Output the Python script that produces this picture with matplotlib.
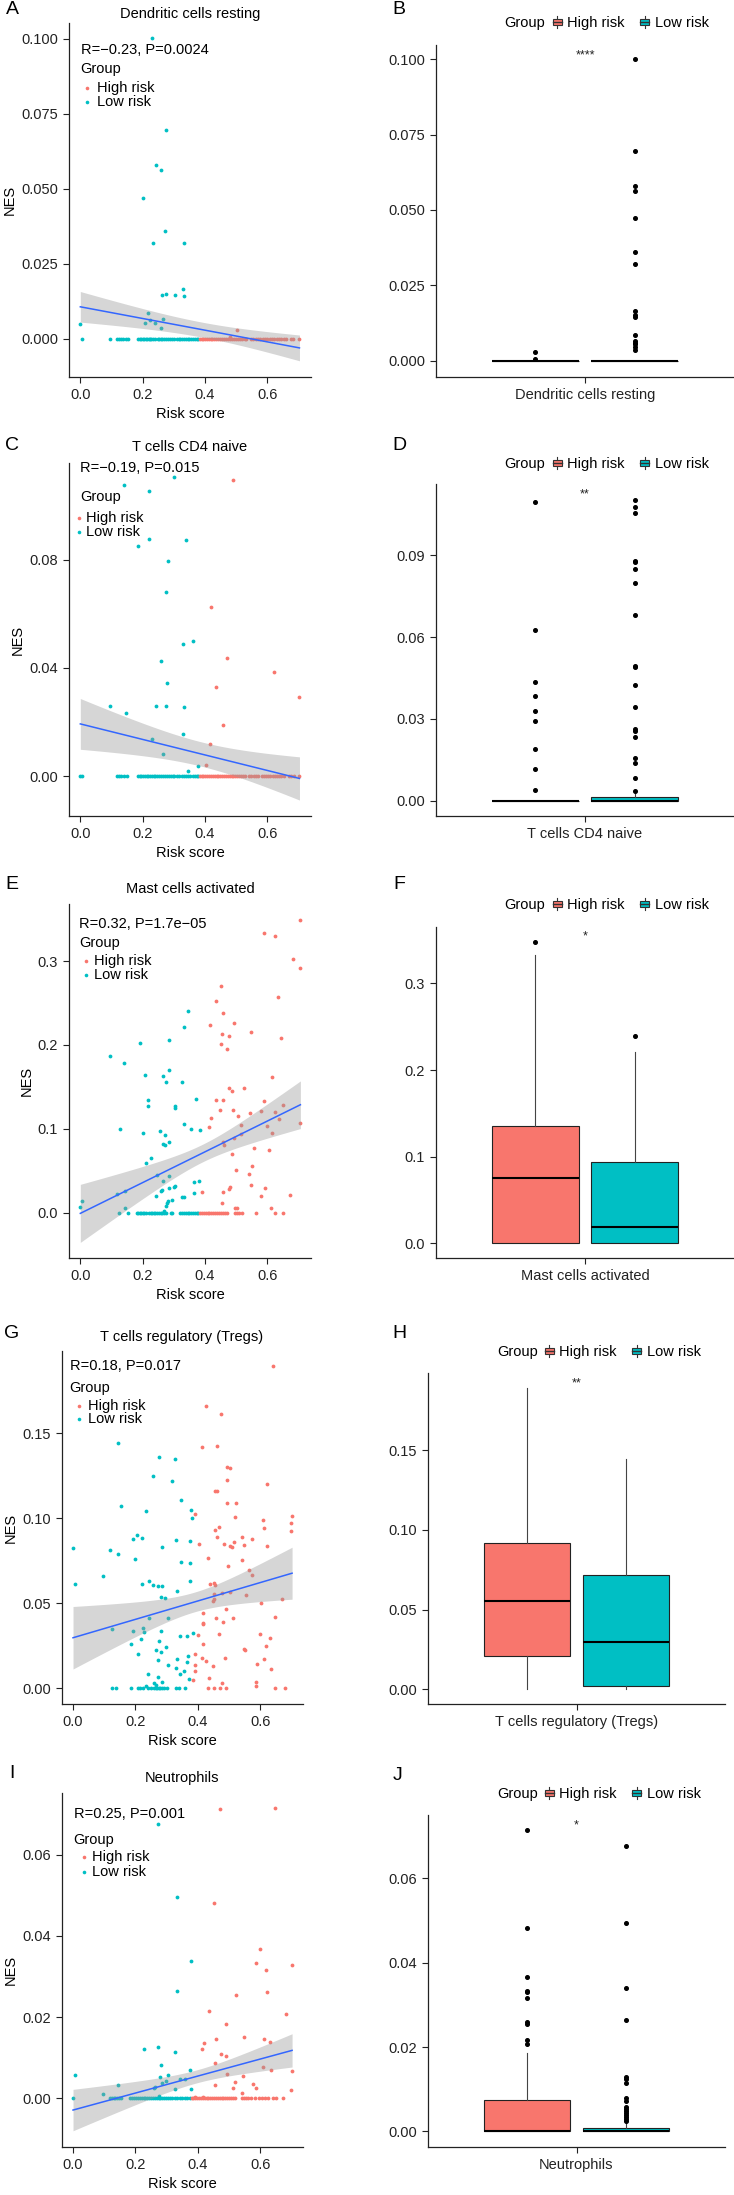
import numpy as np
import matplotlib
matplotlib.use("Agg")
import matplotlib.pyplot as plt
from matplotlib.patches import Patch, Rectangle
from matplotlib.lines import Line2D
from matplotlib.legend_handler import HandlerBase

plt.rcParams["font.family"] = ["Liberation Sans", "DejaVu Sans"]

W, H = 734, 2195
HIGH = "#F8766D"
LOW = "#00BFC4"
INK = "#222222"

# ---------------- data ----------------
# A / B  Dendritic cells resting
a_low_x = [0.229, 0.275, 0.244, 0.260, 0.200, 0.272, 0.234, 0.332, 0.328, 0.263, 0.275, 0.305, 0.333,
           0.218, 0.209, 0.225, 0.241, 0.264, 0.258, 0.0]
a_low_y = [0.1003, 0.0696, 0.0581, 0.0562, 0.0471, 0.0361, 0.032, 0.032, 0.0166, 0.0148, 0.0151, 0.0148, 0.0143,
           0.0087, 0.0053, 0.0062, 0.0053, 0.0068, 0.0038, 0.005]
a_low_zero = [0.007, 0.096, 0.117, 0.124, 0.131, 0.138, 0.145, 0.152, 0.184, 0.19, 0.196, 0.2, 0.205, 0.21,
              0.214, 0.219, 0.224, 0.228, 0.233, 0.241, 0.248, 0.252, 0.258, 0.263, 0.27, 0.276, 0.281, 0.287,
              0.293, 0.3, 0.31, 0.316, 0.321, 0.327, 0.333, 0.338, 0.344, 0.35, 0.356, 0.362, 0.368, 0.374, 0.379]
a_high_x = [0.504, 0.48]
a_high_y = [0.0029, 0.0007]
a_high_zero = [0.383, 0.389, 0.395, 0.4, 0.406, 0.412, 0.418, 0.424, 0.43, 0.436, 0.442, 0.448, 0.455, 0.461,
               0.468, 0.474, 0.48, 0.487, 0.493, 0.5, 0.507, 0.513, 0.52, 0.527, 0.533, 0.548, 0.555, 0.562,
               0.57, 0.577, 0.585, 0.592, 0.6, 0.607, 0.615, 0.622, 0.63, 0.637, 0.645, 0.652, 0.66, 0.675,
               0.683, 0.703]
a_fit = [0.0107, -0.0030, 0.0051, 0.0025, 0.0043]  # line at x=0, line at x=max, CI half-width at 0 / min / max
a_stat = "R=\u22120.23, P=0.0024"

b_high_box = [0.0, 0.0, 0.0, 0.0, 0.0]  # whislo, q1, med, q3, whishi
b_high_out = [0.0029, 0.0007]
b_low_box = [0.0, 0.0, 0.0, 0.0, 0.0]
b_low_out = [0.1, 0.0694, 0.058, 0.0564, 0.0473, 0.0362, 0.0321, 0.0165, 0.0151, 0.0144, 0.0086, 0.0067,
             0.006, 0.0054, 0.0046, 0.0035]
b_star = ("****", 0.1011)

# C / D  T cells CD4 naive
c_low_x = [0.140, 0.299, 0.219, 0.220, 0.340, 0.186, 0.282, 0.275, 0.328, 0.361, 0.258, 0.279, 0.096, 0.145,
           0.244, 0.276, 0.334, 0.328, 0.229, 0.264, 0.376, 0.344]
c_low_y = [0.1078, 0.1106, 0.1056, 0.0879, 0.0874, 0.0851, 0.0798, 0.0681, 0.0490, 0.0499, 0.0426, 0.0343,
           0.0259, 0.0235, 0.0260, 0.0258, 0.0256, 0.0156, 0.0138, 0.0083, 0.0036, 0.0019]
c_low_zero = [0.0, 0.006, 0.117, 0.124, 0.131, 0.14, 0.149, 0.184, 0.19, 0.196, 0.202, 0.208, 0.213, 0.218,
              0.224, 0.229, 0.235, 0.241, 0.247, 0.253, 0.259, 0.265, 0.271, 0.277, 0.283, 0.29, 0.296, 0.302,
              0.31, 0.318, 0.325, 0.332, 0.339, 0.346, 0.353, 0.36, 0.367, 0.374, 0.379]
c_high_x = [0.490, 0.419, 0.472, 0.621, 0.434, 0.702, 0.457, 0.415, 0.404]
c_high_y = [0.1096, 0.0627, 0.0436, 0.0386, 0.0328, 0.0293, 0.0189, 0.0117, 0.0040]
c_high_zero = [0.383, 0.389, 0.395, 0.401, 0.407, 0.413, 0.419, 0.425, 0.431, 0.437, 0.443, 0.449, 0.455,
               0.461, 0.467, 0.473, 0.479, 0.485, 0.491, 0.497, 0.503, 0.509, 0.515, 0.521, 0.527, 0.542,
               0.549, 0.556, 0.563, 0.57, 0.582, 0.589, 0.596, 0.603, 0.61, 0.617, 0.624, 0.631, 0.638,
               0.645, 0.652, 0.668, 0.676, 0.684, 0.703]
c_fit = [0.0193, -0.0009, 0.0094, 0.0045, 0.0080]
c_stat = "R=\u22120.19, P=0.015"

d_high_box = [0.0, 0.0, 0.0, 0.0, 0.0]
d_high_out = [0.1097, 0.0626, 0.0437, 0.0385, 0.0328, 0.0292, 0.0189, 0.0116, 0.0038]
d_low_box = [0.0, 0.0, 0.0, 0.0014, 0.0025]
d_low_out = [0.1105, 0.1076, 0.1057, 0.0880, 0.0876, 0.0851, 0.0797, 0.0681, 0.0496, 0.0492, 0.0426,
             0.0344, 0.0262, 0.0257, 0.0235, 0.0158, 0.0139, 0.0082, 0.0037]
d_star = ("**", 0.1124)

# E / F  Mast cells activated
e_high_x = [0.704, 0.588, 0.625, 0.683, 0.704, 0.452, 0.436, 0.633, 0.457, 0.415, 0.493, 0.455, 0.478, 0.549,
            0.643, 0.451, 0.471, 0.614, 0.476, 0.486, 0.524, 0.434, 0.459, 0.589, 0.449, 0.490, 0.545, 0.579,
            0.624, 0.649, 0.419, 0.505, 0.637, 0.516, 0.413, 0.600, 0.706, 0.517, 0.614, 0.494, 0.457, 0.460,
            0.557, 0.604, 0.487, 0.498, 0.551, 0.542, 0.549, 0.593, 0.480, 0.477, 0.389, 0.459, 0.579, 0.672,
            0.453, 0.611, 0.495, 0.504]
e_high_y = [0.3488, 0.3337, 0.3302, 0.3023, 0.2912, 0.2706, 0.2523, 0.2571, 0.2376, 0.2241, 0.2261, 0.2126,
            0.2110, 0.2149, 0.2086, 0.2014, 0.1955, 0.1617, 0.1486, 0.1450, 0.1486, 0.1347, 0.1347, 0.1335,
            0.1220, 0.1220, 0.1192, 0.1216, 0.1196, 0.1283, 0.1132, 0.1152, 0.1116, 0.1045, 0.1021, 0.1033,
            0.1065, 0.0934, 0.0946, 0.0886, 0.0842, 0.0807, 0.0767, 0.0747, 0.0695, 0.0513, 0.0552, 0.0461,
            0.0326, 0.0298, 0.0302, 0.0282, 0.0242, 0.0242, 0.0199, 0.0215, 0.0115, 0.0052, 0.0056, 0.0052]
e_high_zero = [0.385, 0.39, 0.396, 0.402, 0.408, 0.414, 0.42, 0.426, 0.432, 0.438, 0.445, 0.452, 0.458,
               0.465, 0.47, 0.495, 0.502, 0.51, 0.52, 0.565, 0.626, 0.65]
e_low_x = [0.347, 0.333, 0.190, 0.283, 0.094, 0.139, 0.207, 0.266, 0.283, 0.275, 0.327, 0.218, 0.217, 0.371,
           0.304, 0.304, 0.333, 0.127, 0.355, 0.384, 0.202, 0.256, 0.273, 0.264, 0.273, 0.283, 0.227, 0.210,
           0.247, 0.283, 0.365, 0.381, 0.264, 0.299, 0.304, 0.286, 0.258, 0.261, 0.117, 0.143, 0.366, 0.327,
           0.332, 0.244, 0.280, 0.295, 0.277, 0.275, 0.143, 0.004, 0.0, 0.270]
e_low_y = [0.2400, 0.2213, 0.2026, 0.2054, 0.1863, 0.1784, 0.1637, 0.1625, 0.1700, 0.1553, 0.1561, 0.1339,
           0.1267, 0.1355, 0.1275, 0.1244, 0.1061, 0.0997, 0.1001, 0.0985, 0.0950, 0.0969, 0.0930, 0.0814,
           0.0807, 0.0846, 0.0652, 0.0592, 0.0449, 0.0441, 0.0362, 0.0373, 0.0373, 0.0310, 0.0314, 0.0290,
           0.0254, 0.0270, 0.0222, 0.0258, 0.0234, 0.0187, 0.0183, 0.0199, 0.0139, 0.0151, 0.0111, 0.0079,
           0.0056, 0.0139, 0.0072, 0.0020]
e_low_zero = [0.124, 0.152, 0.181, 0.186, 0.19, 0.196, 0.2, 0.205, 0.212, 0.22, 0.226, 0.231, 0.236, 0.241,
              0.247, 0.252, 0.258, 0.263, 0.27, 0.276, 0.29, 0.295, 0.32, 0.327, 0.333, 0.338, 0.345, 0.35,
              0.356, 0.362, 0.368, 0.374, 0.379]
e_fit = [-0.0008, 0.1287, 0.0346, 0.0105, 0.0284]
e_stat = "R=0.32, P=1.7e\u221205"

f_high_box = [0.0, 0.0, 0.0758, 0.135, 0.3323]
f_high_out = [0.3481]
f_low_box = [0.0, 0.0, 0.0185, 0.0942, 0.2204]
f_low_out = [0.2392]
f_star = ("*", 0.3538)

# G / H  T cells regulatory (Tregs)
g_high_x = [0.641, 0.427, 0.473, 0.412, 0.460, 0.492, 0.504, 0.494, 0.621, 0.456, 0.461, 0.494, 0.523, 0.390,
            0.702, 0.520, 0.609, 0.700, 0.468, 0.611, 0.456, 0.700, 0.463, 0.541, 0.575, 0.404, 0.484, 0.515,
            0.504, 0.510, 0.548, 0.623, 0.433, 0.543, 0.496, 0.563, 0.575, 0.438, 0.453, 0.456, 0.476, 0.504,
            0.451, 0.554, 0.670, 0.451, 0.448, 0.602, 0.491, 0.418, 0.458, 0.514, 0.647, 0.415, 0.416, 0.480,
            0.402, 0.469, 0.598, 0.630, 0.418, 0.620, 0.548, 0.550, 0.390, 0.414, 0.486, 0.427, 0.612, 0.392,
            0.448, 0.590, 0.635, 0.392, 0.435, 0.386, 0.476, 0.587, 0.587]
g_high_y = [0.1895, 0.1659, 0.1612, 0.1418, 0.1422, 0.1304, 0.1296, 0.1224, 0.1202, 0.1157, 0.1157, 0.1089,
            0.1089, 0.1026, 0.1014, 0.1004, 0.0991, 0.0971, 0.0948, 0.0940, 0.0928, 0.0924, 0.0889, 0.0891,
            0.0879, 0.0846, 0.0850, 0.0858, 0.0838, 0.0830, 0.0844, 0.0838, 0.0766, 0.0756, 0.0721, 0.0697,
            0.0664, 0.0613, 0.0619, 0.0605, 0.0562, 0.0566, 0.0556, 0.0550, 0.0525, 0.0523, 0.0513, 0.0501,
            0.0464, 0.0441, 0.0411, 0.0415, 0.0419, 0.0384, 0.0378, 0.0388, 0.0311, 0.0319, 0.0319, 0.0294,
            0.0262, 0.0247, 0.0227, 0.0221, 0.0202, 0.0174, 0.0174, 0.0159, 0.0172, 0.0133, 0.0131, 0.0143,
            0.0114, 0.0098, 0.0059, 0.0049, 0.0029, 0.0035, 0.0012]
g_high_zero = [0.433, 0.452, 0.471, 0.490, 0.647, 0.680]
g_low_x = [0.144, 0.274, 0.326, 0.256, 0.318, 0.345, 0.154, 0.379, 0.234, 0.380, 0.205, 0.191, 0.222, 0.331,
           0.374, 0.0, 0.119, 0.284, 0.145, 0.200, 0.345, 0.376, 0.095, 0.243, 0.375, 0.006, 0.222, 0.257,
           0.273, 0.284, 0.332, 0.282, 0.296, 0.244, 0.304, 0.125, 0.225, 0.227, 0.192, 0.281, 0.344, 0.366,
           0.383, 0.274, 0.219, 0.186, 0.299, 0.267, 0.282, 0.208, 0.370, 0.272, 0.332, 0.366, 0.304, 0.330,
           0.356, 0.343, 0.241, 0.273, 0.372, 0.259, 0.284, 0.265, 0.234]
g_low_y = [0.1445, 0.1361, 0.1351, 0.1251, 0.1218, 0.1108, 0.1069, 0.1046, 0.1044, 0.0999, 0.0903, 0.0877,
           0.0881, 0.0873, 0.0867, 0.0822, 0.0811, 0.0830, 0.0791, 0.0762, 0.0744, 0.0736, 0.0662, 0.0631,
           0.0632, 0.0613, 0.0613, 0.0605, 0.0599, 0.0603, 0.0574, 0.0537, 0.0531, 0.0415, 0.0411, 0.0349,
           0.0352, 0.0329, 0.0337, 0.0337, 0.0309, 0.0309, 0.0323, 0.0278, 0.0288, 0.0260, 0.0241, 0.0225,
           0.0211, 0.0202, 0.0186, 0.0166, 0.0172, 0.0151, 0.0137, 0.0119, 0.0098, 0.0084, 0.0082, 0.0063,
           0.0053, 0.0031, 0.0035, 0.0018, 0.0012]
g_low_zero = [0.126, 0.137, 0.186, 0.208, 0.216, 0.224, 0.24, 0.25, 0.259, 0.265, 0.27, 0.275, 0.28, 0.286,
              0.292, 0.3, 0.33, 0.34, 0.359]
g_fit = [0.0296, 0.0676, 0.0184, 0.0058, 0.0153]
g_stat = "R=0.18, P=0.017"

h_high_box = [0.0, 0.0205, 0.0554, 0.0918, 0.1893]
h_high_out = []
h_low_box = [0.0, 0.0017, 0.0297, 0.0718, 0.1444]
h_low_out = []
h_star = ("**", 0.192)

# I / J  Neutrophils
i_high_x = [0.470, 0.648, 0.452, 0.599, 0.587, 0.701, 0.620, 0.622, 0.523, 0.436, 0.681, 0.489, 0.548, 0.459,
            0.612, 0.632, 0.420, 0.414, 0.474, 0.491, 0.456, 0.609, 0.635, 0.702, 0.493, 0.546, 0.520, 0.454,
            0.576, 0.514, 0.587, 0.543, 0.700, 0.392, 0.416]
i_high_y = [0.0713, 0.0715, 0.0482, 0.0367, 0.0333, 0.0329, 0.0317, 0.0261, 0.0254, 0.0216, 0.0207, 0.0183,
            0.0151, 0.0146, 0.0145, 0.0139, 0.0135, 0.0121, 0.0109, 0.0103, 0.0088, 0.0076, 0.0069, 0.0066,
            0.0059, 0.0056, 0.0041, 0.0033, 0.0036, 0.0025, 0.0025, 0.0013, 0.0021, 0.0004, 0.0004]
i_high_zero = [0.38, 0.386, 0.392, 0.398, 0.404, 0.41, 0.416, 0.422, 0.428, 0.434, 0.44, 0.446, 0.452, 0.458,
               0.464, 0.47, 0.476, 0.482, 0.488, 0.494, 0.5, 0.506, 0.512, 0.518, 0.541, 0.548, 0.555, 0.562,
               0.57, 0.582, 0.595, 0.605, 0.615, 0.625, 0.64, 0.65, 0.672]
i_low_x = [0.273, 0.332, 0.379, 0.332, 0.227, 0.271, 0.328, 0.282, 0.375, 0.007, 0.304, 0.279, 0.344, 0.360,
           0.298, 0.286, 0.145, 0.264, 0.258, 0.327, 0.379, 0.096, 0.274]
i_low_y = [0.0676, 0.0495, 0.0339, 0.0265, 0.0122, 0.0127, 0.0114, 0.0081, 0.0070, 0.0058, 0.0058, 0.0053,
           0.0048, 0.0048, 0.0042, 0.0038, 0.0033, 0.0029, 0.0025, 0.0024, 0.0024, 0.0010, 0.0006]
i_low_zero = [0.0, 0.118, 0.124, 0.13, 0.136, 0.142, 0.148, 0.155, 0.184, 0.19, 0.196, 0.202, 0.208, 0.214,
              0.22, 0.226, 0.232, 0.238, 0.244, 0.25, 0.256, 0.262, 0.268, 0.274, 0.28, 0.286, 0.292, 0.298,
              0.304, 0.31, 0.318, 0.326, 0.334, 0.342, 0.35, 0.358, 0.366, 0.374]
i_fit = [-0.0029, 0.0118, 0.0051, 0.0016, 0.0041]
i_stat = "R=0.25, P=0.001"

j_high_box = [0.0, 0.0, 0.0002, 0.0074, 0.0186]
j_high_out = [0.0714, 0.0482, 0.0367, 0.0333, 0.033, 0.0317, 0.0259, 0.0254, 0.0216, 0.0207]
j_low_box = [0.0, 0.0, 0.0, 0.0008, 0.0019]
j_low_out = [0.0677, 0.0494, 0.0339, 0.0264, 0.0128, 0.0124, 0.0114, 0.008, 0.0073, 0.0058, 0.0054, 0.0049,
             0.0043, 0.0039, 0.0034, 0.0029, 0.0024]
j_star = ("*", 0.0726)

cell_names = ["Dendritic cells resting", "T cells CD4 naive", "Mast cells activated",
              "T cells regulatory (Tregs)", "Neutrophils"]
panel_letters = ["A", "B", "C", "D", "E", "F", "G", "H", "I", "J"]


# ---------------- helpers ----------------
def px_axes(fig, l, t, r, b):
    return fig.add_axes([l / W, 1 - b / H, (r - l) / W, (b - t) / H])


def fig_text(fig, x, y, s, **kw):
    kw.setdefault("fontsize", 10.5)
    kw.setdefault("color", "black")
    return fig.text(x / W, 1 - y / H, s, **kw)


def style_axes(ax):
    for side in ["top", "right"]:
        ax.spines[side].set_visible(False)
    for side in ["left", "bottom"]:
        ax.spines[side].set_color(INK)
        ax.spines[side].set_linewidth(0.9)
    ax.tick_params(length=4.3, width=0.8, pad=3.5, labelsize=10.5, colors=INK)


class BoxGlyph(HandlerBase):
    # little boxplot key like ggplot's legend glyph
    def create_artists(self, legend, orig_handle, xdescent, ydescent, width, height, fontsize, trans):
        x0, y0 = -xdescent, -ydescent
        fc = orig_handle.get_facecolor()
        box = Rectangle((x0 + 0.1 * width, y0 + 0.2 * height), 0.8 * width, 0.6 * height,
                        facecolor=fc, edgecolor="#333333", lw=0.8, transform=trans)
        whisk = Line2D([x0 + width / 2] * 2, [y0, y0 + height], color="#333333", lw=0.8, transform=trans)
        med = Line2D([x0 + 0.1 * width, x0 + 0.9 * width], [y0 + height / 2] * 2, color="#333333",
                     lw=1.0, transform=trans)
        return [whisk, box, med]


def ci_halfwidth(x, x0, x1, h0, hmin, h1):
    # shape of a linear-model confidence band: sqrt(A + B (x - c)^2)
    a = hmin ** 2
    r = np.sqrt((h0 ** 2 - a) / (h1 ** 2 - a))
    c = (x0 + r * x1) / (1 + r)
    b = (h0 ** 2 - a) / (c - x0) ** 2
    return np.sqrt(a + b * (x - c) ** 2)


def scatter_panel(fig, rect, lim, ticks, fmt, hx, hy, hz, lx, ly, lz, fit, stat, lay):
    ax = px_axes(fig, *rect)
    high_x = hx + hz
    high_y = hy + [0.0] * len(hz)
    low_x = lx + lz
    low_y = ly + [0.0] * len(lz)
    ax.scatter(low_x, low_y, s=7.5, color=LOW, linewidths=0, clip_on=False, zorder=2)
    ax.scatter(high_x, high_y, s=7.5, color=HIGH, linewidths=0, clip_on=False, zorder=2)

    x0 = min(high_x + low_x)
    x1 = max(high_x + low_x)
    xs = np.linspace(x0, x1, 200)
    line = fit[0] + (fit[1] - fit[0]) * (xs - x0) / (x1 - x0)
    hw = ci_halfwidth(xs, x0, x1, fit[2], fit[3], fit[4])
    ax.fill_between(xs, line - hw, line + hw, color="#999999", alpha=0.4, linewidth=0, zorder=3)
    ax.plot(xs, line, color="#3366FF", lw=1.1, zorder=4)

    ax.set_xlim(lim[0], lim[1])
    ax.set_ylim(lim[2], lim[3])
    ax.set_xticks([0.0, 0.2, 0.4, 0.6])
    ax.set_xticklabels(["0.0", "0.2", "0.4", "0.6"])
    ax.set_yticks(ticks)
    ax.set_yticklabels([fmt.format(t) for t in ticks])
    style_axes(ax)
    ax.set_xlabel("Risk score", fontsize=10.5, labelpad=3.5)
    ax.set_ylabel("NES", fontsize=10.5, labelpad=3)

    # in-panel annotation and legend
    sx, sy, gx, gy, dx, dy_hi, dy_lo, tx = lay
    fig_text(fig, sx, sy, stat, va="center", ha="left")
    fig_text(fig, gx, gy, "Group", va="center", ha="left")
    for yy, col, lab in [(dy_hi, HIGH, "High risk"), (dy_lo, LOW, "Low risk")]:
        fig.add_artist(Line2D([dx / W], [1 - yy / H], marker="o", markersize=2.6, color=col,
                              markeredgewidth=0, linestyle="none", transform=fig.transFigure))
        fig_text(fig, tx, yy, lab, va="center", ha="left")
    return ax


def box_panel(fig, rect, lim, ticks, fmt, hi_box, hi_out, lo_box, lo_out, star, name, leg):
    ax = px_axes(fig, *rect)
    stats = []
    for bx, out in [(hi_box, hi_out), (lo_box, lo_out)]:
        stats.append(dict(whislo=bx[0], q1=bx[1], med=bx[2], q3=bx[3], whishi=bx[4], fliers=out))
    res = ax.bxp(stats, positions=[0.8, 1.2], widths=0.35, patch_artist=True, showcaps=False,
                 boxprops=dict(edgecolor="#222222", linewidth=0.8),
                 whiskerprops=dict(color="#444444", linewidth=0.8),
                 medianprops=dict(color="black", linewidth=1.5),
                 flierprops=dict(marker="o", markerfacecolor="black", markeredgecolor="black",
                                 markersize=2.6, linestyle="none"))
    for patch, col in zip(res["boxes"], [HIGH, LOW]):
        patch.set_facecolor(col)
    for fl in res["fliers"]:
        fl.set_clip_on(False)
    ax.text(1.0, star[1], star[0], ha="center", va="center", fontsize=9, color=INK)

    ax.set_xlim(0.4, 1.6)
    ax.set_ylim(lim[0], lim[1])
    ax.set_xticks([1.0])
    ax.set_xticklabels([name])
    ax.set_yticks(ticks)
    ax.set_yticklabels([fmt.format(t) for t in ticks])
    style_axes(ax)

    gx, ix, ly = leg
    fig_text(fig, gx, ly, "Group", va="center", ha="left")
    handles = [Patch(facecolor=HIGH), Patch(facecolor=LOW)]
    fig.legend(handles, ["High risk", "Low risk"], ncol=2, loc="center left",
               bbox_to_anchor=(ix / W, 1 - ly / H), bbox_transform=fig.transFigure,
               handler_map={Patch: BoxGlyph()},
               frameon=False, fontsize=10.5, handlelength=0.75, handleheight=0.8,
               handletextpad=0.3, columnspacing=1.0, borderpad=0, borderaxespad=0)
    return ax


# ---------------- figure ----------------
fig = plt.figure(figsize=(W / 100, H / 100), dpi=100)
fig.patch.set_facecolor("white")

scatter_specs = [
    ((69, 23, 311, 377), (-0.0363, 0.740, -0.0127, 0.1053), [0.0, 0.025, 0.05, 0.075, 0.1], "{:.3f}",
     a_high_x, a_high_y, a_high_zero, a_low_x, a_low_y, a_low_zero, a_fit, a_stat,
     (80.7, 50, 80.7, 69, 87, 88, 102, 96.7), (190, 14)),
    ((69, 463, 311, 816), (-0.0363, 0.740, -0.0148, 0.1159), [0.0, 0.04, 0.08], "{:.2f}",
     c_high_x, c_high_y, c_high_zero, c_low_x, c_low_y, c_low_zero, c_fit, c_stat,
     (80, 468, 80, 497, 79, 518, 532, 86.3), (190, 447)),
    ((69, 904, 311, 1258), (-0.0363, 0.740, -0.054, 0.368), [0.0, 0.1, 0.2, 0.3], "{:.1f}",
     e_high_x, e_high_y, e_high_zero, e_low_x, e_low_y, e_low_zero, e_fit, e_stat,
     (79, 924, 79, 943, 85.7, 961, 975, 94.3), (190, 889)),
    ((62, 1351, 303, 1704), (-0.0353, 0.737, -0.0094, 0.1984), [0.0, 0.05, 0.10, 0.15], "{:.2f}",
     g_high_x, g_high_y, g_high_zero, g_low_x, g_low_y, g_low_zero, g_fit, g_stat,
     (69.7, 1365.7, 69.7, 1388, 79, 1405.7, 1419.3, 87.7), (182, 1337)),
    ((62, 1793, 303, 2147), (-0.0353, 0.737, -0.0120, 0.0752), [0.0, 0.02, 0.04, 0.06], "{:.2f}",
     i_high_x, i_high_y, i_high_zero, i_low_x, i_low_y, i_low_zero, i_fit, i_stat,
     (73.7, 1814, 73.7, 1840, 83.7, 1857.3, 1872.3, 92), (182, 1778)),
]

box_specs = [
    ((436, 45, 734, 377), (-0.0054, 0.1047), [0.0, 0.025, 0.05, 0.075, 0.1], "{:.3f}",
     b_high_box, b_high_out, b_low_box, b_low_out, b_star, (504, 552, 23)),
    ((436, 484, 734, 816), (-0.0056, 0.1162), [0.0, 0.03, 0.06, 0.09], "{:.2f}",
     d_high_box, d_high_out, d_low_box, d_low_out, d_star, (504, 552, 464)),
    ((436, 927, 734, 1258), (-0.0169, 0.365), [0.0, 0.1, 0.2, 0.3], "{:.1f}",
     f_high_box, f_high_out, f_low_box, f_low_out, f_star, (504, 552, 905)),
    ((428, 1373, 725, 1704), (-0.0094, 0.1987), [0.0, 0.05, 0.10, 0.15], "{:.2f}",
     h_high_box, h_high_out, h_low_box, h_low_out, h_star, (497, 544, 1352)),
    ((428, 1815, 725, 2147), (-0.0037, 0.075), [0.0, 0.02, 0.04, 0.06], "{:.2f}",
     j_high_box, j_high_out, j_low_box, j_low_out, j_star, (497, 544, 1794)),
]

letter_pos = [(12, 10), (399, 10), (12, 445), (399, 445), (12, 885), (399, 885),
              (12, 1333), (399, 1333), (12, 1773), (398, 1776)]

for k in range(5):
    sp = scatter_specs[k]
    scatter_panel(fig, *sp[:13])
    fig_text(fig, sp[13][0], sp[13][1], cell_names[k], ha="center", va="center")
    bp = box_specs[k]
    box_panel(fig, *bp[:9], cell_names[k], bp[9])

for letter, (x, y) in zip(panel_letters, letter_pos):
    fig_text(fig, x, y, letter, ha="center", va="center", fontsize=14)

fig.savefig("out.png", dpi=100, facecolor="white")
